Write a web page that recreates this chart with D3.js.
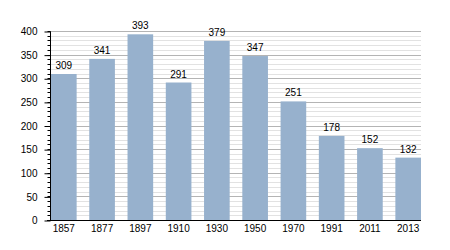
<!DOCTYPE html>
<html>
<head>
<meta charset="utf-8">
<script src="https://cdn.jsdelivr.net/npm/d3@7"></script>
<style>
  body { margin: 0; background: #fff; }
  text { font-family: "Liberation Sans", Arial, sans-serif; font-size: 10px; fill: #000; }
</style>
</head>
<body>
<div id="chart"></div>
<script>
'use strict';

var years = ['1857', '1877', '1897', '1910', '1930', '1950', '1970', '1991', '2011', '2013'];
var population = [309, 341, 393, 291, 379, 347, 251, 178, 152, 132];
var yTicks = [0, 50, 100, 150, 200, 250, 300, 350, 400];

var width = 450, height = 250;
var plot = { left: 50, right: 421, top: 31, bottom: 220 };

var svg = d3.select('#chart').append('svg')
    .attr('width', width)
    .attr('height', height);

var x = d3.scaleBand().domain(years).range([plot.left + 1, plot.right]).paddingInner(0.33).paddingOuter(0);
var y = d3.scaleLinear().domain([0, 400]).range([plot.bottom, plot.top]);

var minor = d3.range(0, 401, 10);

// grid lines
svg.append('g').selectAll('line')
    .data(minor.filter(function(d) { return d % 50 !== 0; }))
    .enter().append('line')
    .attr('x1', plot.left).attr('x2', plot.right)
    .attr('y1', function(d) { return Math.round(y(d)) + 0.5; })
    .attr('y2', function(d) { return Math.round(y(d)) + 0.5; })
    .style('stroke', '#e2e2e2').style('stroke-width', 1);

svg.append('g').selectAll('line')
    .data(yTicks.filter(function(d) { return d > 0; }))
    .enter().append('line')
    .attr('x1', plot.left).attr('x2', plot.right)
    .attr('y1', function(d) { return Math.round(y(d)) + 0.5; })
    .attr('y2', function(d) { return Math.round(y(d)) + 0.5; })
    .style('stroke', '#b4b4b4').style('stroke-width', 1);

// bars
svg.append('g').selectAll('rect')
    .data(population)
    .enter().append('rect')
    .attr('x', function(d, i) { return x(years[i]); })
    .attr('width', x.bandwidth())
    .attr('y', function(d) { return y(d); })
    .attr('height', function(d) { return plot.bottom - y(d); })
    .style('fill', '#97b1cd');

// value labels
svg.append('g').selectAll('text')
    .data(population)
    .enter().append('text')
    .attr('x', function(d, i) { return x(years[i]) + x.bandwidth() / 2; })
    .attr('y', function(d) { return y(d) - 5; })
    .attr('text-anchor', 'middle')
    .text(function(d) { return d; });

// y axis
var yAxis = svg.append('g').attr('transform', 'translate(' + (plot.left + 0.5) + ',0.5)');
yAxis.selectAll('line.minor')
    .data(minor)
    .enter().append('line')
    .attr('class', 'minor')
    .attr('x1', -3).attr('x2', 0)
    .attr('y1', function(d) { return Math.round(y(d)); })
    .attr('y2', function(d) { return Math.round(y(d)); })
    .style('stroke', '#000');
yAxis.call(d3.axisLeft(y).tickValues(yTicks).tickSize(6).tickPadding(7));
yAxis.select('.domain').attr('d', 'M0,' + plot.top + 'V' + plot.bottom);
yAxis.selectAll('.tick text').style('font-size', '10px').style('font-family', '"Liberation Sans", Arial, sans-serif');

// x axis
svg.append('line')
    .attr('x1', plot.left - 3).attr('x2', plot.right)
    .attr('y1', plot.bottom + 0.5).attr('y2', plot.bottom + 0.5)
    .style('stroke', '#000');

svg.append('g').selectAll('text')
    .data(years)
    .enter().append('text')
    .attr('x', function(d) { return x(d) + x.bandwidth() / 2; })
    .attr('y', plot.bottom + 12)
    .attr('text-anchor', 'middle')
    .text(function(d) { return d; });
</script>
</body>
</html>
